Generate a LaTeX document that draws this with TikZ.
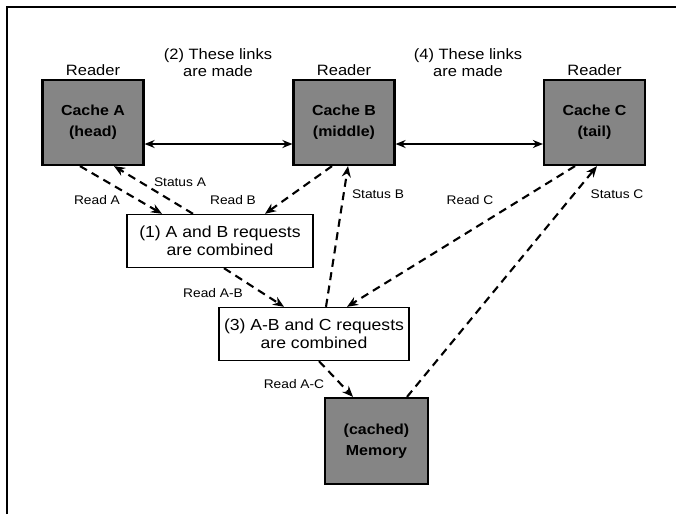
\documentclass[tikz,border=0pt]{standalone}
\usepackage{fontspec}
\setmainfont{Liberation Sans}[FakeStretch=1.1]
\usetikzlibrary{arrows.meta,positioning}

\begin{document}
\begin{tikzpicture}[
  x=1pt, y=-1pt,
  cache/.style={draw, line width=2.2pt, fill=black!48, align=center, font=\fontsize{14.5}{21}\selectfont\bfseries,
    minimum width=101pt, minimum height=85pt, inner sep=0pt},
  combo/.style={draw, line width=1.4pt, fill=white, align=center, font=\fontsize{16}{18.5}\selectfont,
    minimum height=53pt, inner sep=2pt},
  lbl/.style={font=\fontsize{15}{17}\selectfont, align=center},
  tag/.style={font=\fontsize{12.5}{14}\selectfont, inner sep=1pt},
  link/.style={{Stealth[length=10pt,width=8pt]}-{Stealth[length=10pt,width=8pt]}, line width=1.7pt},
  req/.style={-{Stealth[length=11pt,width=9pt]}, line width=2.1pt, dash pattern=on 8pt off 5.5pt}
]
\useasboundingbox (0,0) rectangle (676,514);
\draw[line width=1.5pt] (7,514) -- (7,7) -- (676,7);

% the three readers and memory
\node[cache] (cacheA) at (93,122.5) {Cache A\\(head)};
\node[cache] (cacheB) at (344,122.5) {Cache B\\(middle)};
\node[cache] (cacheC) at (594.5,122.5) {Cache C\\(tail)};
\node[cache, minimum width=103pt, minimum height=86pt] (mem) at (376.5,441) {(cached)\\Memory};

\node[lbl, above=0pt of cacheA] (rdA) {Reader};
\node[lbl, above=0pt of cacheB] (rdB) {Reader};
\node[lbl, above=0pt of cacheC] (rdC) {Reader};

\node[lbl] (lnk2) at (218,63) {(2) These links\\are made};
\node[lbl] (lnk4) at (468,63) {(4) These links\\are made};

% combining steps
\node[combo, minimum width=186pt] (comb1) at (220,241) {(1) A and B requests\\are combined};
\node[combo, minimum width=190pt] (comb3) at (314,334) {(3) A-B and C requests\\are combined};

\draw[link] ([yshift=-21.5pt]cacheA.east) -- ([yshift=-21.5pt]cacheB.west);
\draw[link] ([yshift=-21.5pt]cacheB.east) -- ([yshift=-21.5pt]cacheC.west);

\draw[req] ([xshift=-13pt]cacheA.south) -- ([xshift=-58pt]comb1.north);
\draw[req] ([xshift=-27pt]comb1.north) -- ([xshift=21pt]cacheA.south);
\draw[req] ([xshift=-12pt]cacheB.south) -- ([xshift=45pt]comb1.north);
\draw[req] ([xshift=12pt]comb3.north) -- ([xshift=4pt]cacheB.south);
\draw[req] ([xshift=-19.5pt]cacheC.south) -- ([xshift=33pt]comb3.north);
\draw[req] ([xshift=30.5pt]mem.north) -- ([xshift=2.5pt]cacheC.south);
\draw[req] ([xshift=4pt]comb1.south) -- ([xshift=-30pt]comb3.north);
\draw[req] ([xshift=5pt]comb3.south) -- ([xshift=-23.5pt]mem.north);

\node[tag] (tRA) at (97,200) {Read A};
\node[tag] (tSA) at (180,182) {Status A};
\node[tag] (tRB) at (233,200) {Read B};
\node[tag] (tSB) at (378,194) {Status B};
\node[tag] (tRC) at (470,200) {Read C};
\node[tag] (tSC) at (617,194) {Status C};
\node[tag] (tRAB) at (213,293) {Read A-B};
\node[tag] (tRAC) at (294,384) {Read A-C};
\end{tikzpicture}
\end{document}
